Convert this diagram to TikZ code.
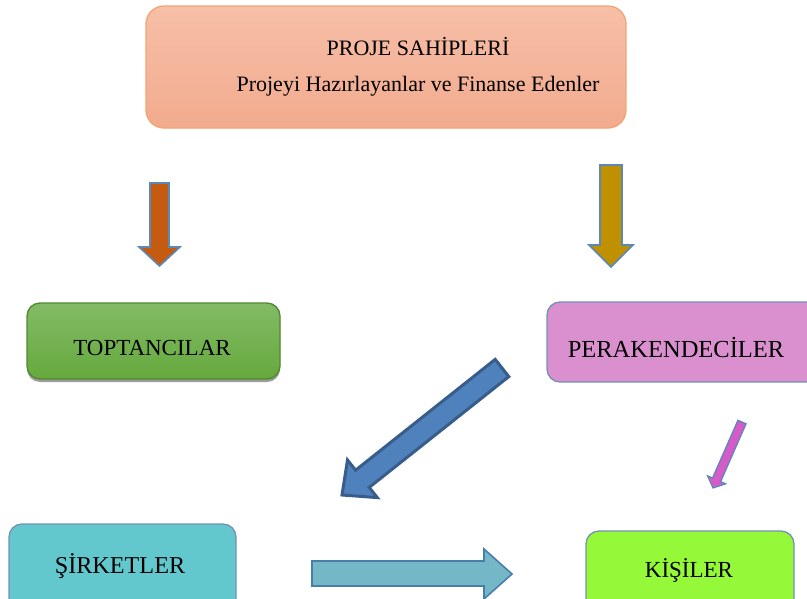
\documentclass[tikz,border=0pt]{standalone}
\usepackage{fontspec}
\setmainfont{Liberation Serif}
\usetikzlibrary{shadows}
\definecolor{topA}{HTML}{F6BFA7}
\definecolor{topB}{HTML}{F2AB8E}
\definecolor{topLine}{HTML}{F2A472}
\definecolor{greenA}{HTML}{82BB66}
\definecolor{greenB}{HTML}{66A93D}
\definecolor{pinkBox}{HTML}{DA90CF}
\definecolor{cyanBox}{HTML}{63C8CD}
\definecolor{limeBox}{HTML}{95F93A}
\definecolor{edgeBlue}{HTML}{7391B4}
\definecolor{arrOrange}{HTML}{C55A11}
\definecolor{arrGold}{HTML}{BF9000}
\definecolor{arrEdge}{HTML}{5A89B8}
\definecolor{arrBlue}{HTML}{4F81BD}
\definecolor{arrBlueEdge}{HTML}{385D8A}
\definecolor{arrPink}{HTML}{D45BC8}
\definecolor{arrTeal}{HTML}{74B8C8}
\definecolor{arrTealEdge}{HTML}{4A7EAA}
\tikzset{
  boxbase/.style={rounded corners=13pt, line width=1.3pt, draw=edgeBlue, inner sep=0pt},
  lbl/.style={font=\fontsize{23}{27}\selectfont, text=black, inner sep=0pt},
  blockarr/.style={line width=1.6pt, draw=arrEdge, line join=miter},
}
\begin{document}
\begin{tikzpicture}[x=1pt,y=-1pt]
\clip (0,0) rectangle (807,598);
\fill[white] (0,0) rectangle (807,598);

% top box
\node[boxbase, rounded corners=18pt, draw=topLine, top color=topA, bottom color=topB,
      minimum width=480pt, minimum height=122pt] (owners) at (386,67) {};
\node[font=\fontsize{22}{26}\selectfont, inner sep=0pt] (ownersT) at (418,47) {PROJE SAHİPLERİ};
\node[font=\fontsize{22}{26}\selectfont, inner sep=0pt] (ownersS) at (418,86) {Projeyi Hazırlayanlar ve Finanse Edenler};

% middle boxes
\node[boxbase, draw=greenB!80!black, top color=greenA, bottom color=greenB,
      drop shadow={shadow xshift=0pt, shadow yshift=-3pt, opacity=0.55, fill=black!70},
      minimum width=253pt, minimum height=76pt] (whole) at (153.5,341) {};
\node[lbl] (wholeT) at (152,348) {TOPTANCILAR};

\node[boxbase, fill=pinkBox, minimum width=293pt, minimum height=80pt] (retail) at (693.5,342) {};
\node[lbl, font=\fontsize{24.5}{28}\selectfont] (retailT) at (676,348) {PERAKENDECİLER};

% bottom boxes
\node[boxbase, fill=cyanBox, minimum width=227pt, minimum height=96pt] (firms) at (122.5,572) {};
\node[lbl, font=\fontsize{24.2}{28}\selectfont] (firmsT) at (120,566) {ŞİRKETLER};

\node[boxbase, fill=limeBox, minimum width=208pt, minimum height=90pt] (people) at (690,576) {};
\node[lbl] (peopleT) at (689,570) {KİŞİLER};

% block arrows
\draw[blockarr, fill=arrOrange] (150,183) -- (169,183) -- (169,247) -- (180,247) -- (159.5,266) -- (139,247) -- (150,247) -- cycle;
\draw[blockarr, fill=arrGold] (600,165) -- (622,165) -- (622,245) -- (633,245) -- (611,267) -- (589,245) -- (600,245) -- cycle;
\draw[blockarr, line width=3pt, draw=arrBlueEdge, fill=arrBlue]
  (495.2,359.4) -- (355.6,470.2) -- (347.5,460) -- (342,495) -- (377.3,497.6) -- (369.2,487.4) -- (508.8,376.6) -- cycle;
\draw[blockarr, line width=1.2pt, fill=arrPink]
  (737.9,420.2) -- (712.5,478.0) -- (707.5,475.8) -- (713,488) -- (725.8,483.8) -- (720.7,481.6) -- (746.1,423.8) -- cycle;
\draw[blockarr, draw=arrTealEdge, fill=arrTeal]
  (312,561) -- (484,561) -- (484,549) -- (512,574) -- (484,599) -- (484,586) -- (312,586) -- cycle;
\end{tikzpicture}
\end{document}
